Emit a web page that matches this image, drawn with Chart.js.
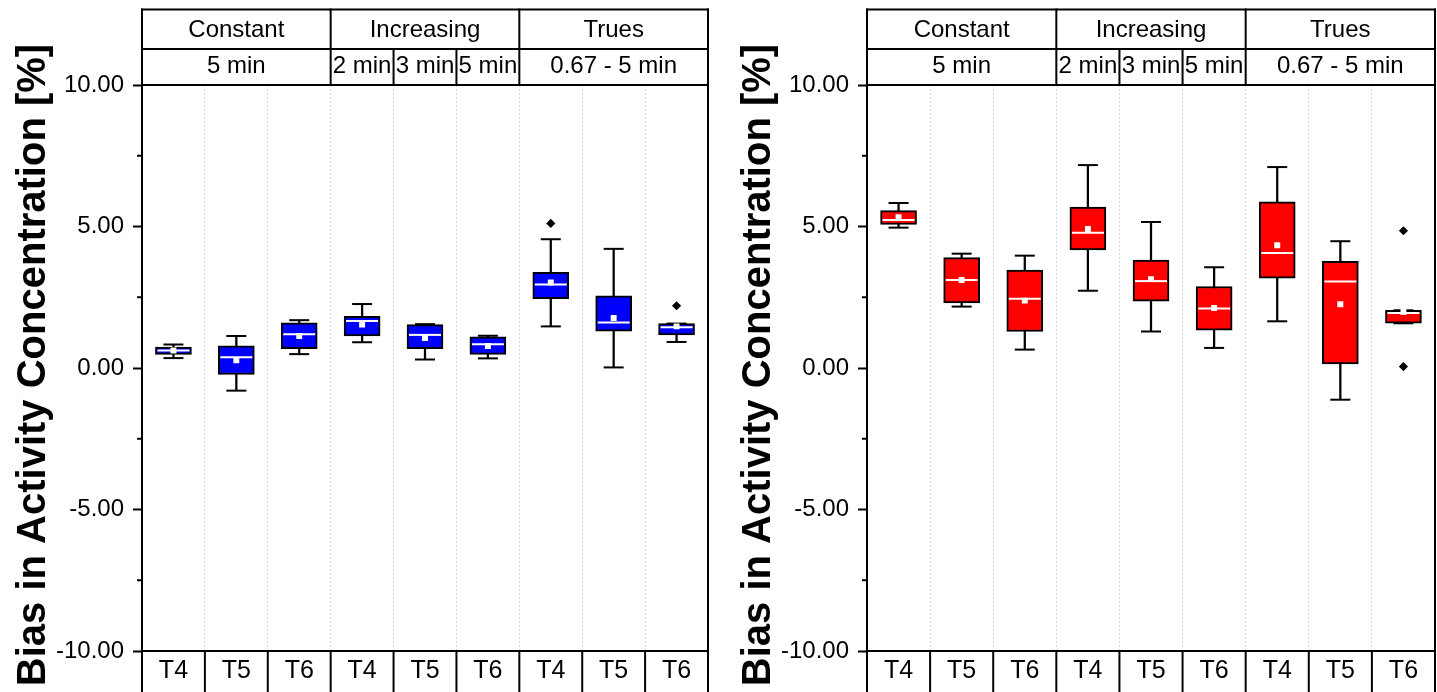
<!DOCTYPE html>
<html>
<head>
<meta charset="utf-8">
<title>Bias in Activity Concentration</title>
<script src="https://cdn.jsdelivr.net/npm/chart.js@4.4.1/dist/chart.umd.min.js"></script>
<style>
  html, body { margin: 0; padding: 0; background: #fff; overflow: hidden; }
  #wrap { position: relative; width: 1437px; height: 692px; overflow: hidden; }
  canvas { position: absolute; top: 0; }
  #left { left: 0; }
  #right { left: 725px; }
</style>
</head>
<body>
<div id="wrap">
  <canvas id="left" width="726" height="692"></canvas>
  <canvas id="right" width="728" height="692"></canvas>
</div>
<script>
// Categories along the x axis and the two header rows above the plot
const categories = ['T4', 'T5', 'T6', 'T4', 'T5', 'T6', 'T4', 'T5', 'T6'];
const groupNames = ['Constant', 'Increasing', 'Trues'];
const groupSpans = [3, 3, 3];
const intervalNames = ['5 min', '2 min', '3 min', '5 min', '0.67 - 5 min'];
const intervalSpans = [3, 1, 1, 1, 3];

// Y axis
const yTickValues = [-10, -5, 0, 5, 10];
const yMinorTickValues = [-7.5, -2.5, 2.5, 7.5];
const yTitle = 'Bias in Activity Concentration [%]';

// Blue panel: box statistics per category
const blueMin    = [0.35, -0.80, 0.49, 0.91, 0.30, 0.34, 1.47, 0.02, 0.92];
const blueQ1     = [0.48, -0.23, 0.68, 1.13, 0.68, 0.48, 2.45, 1.30, 1.17];
const blueMedian = [0.62,  0.38, 1.19, 1.66, 1.17, 0.84, 2.95, 1.61, 1.44];
const blueMean   = [0.62,  0.27, 1.13, 1.54, 1.06, 0.78, 3.02, 1.77, 1.47];
const blueQ3     = [0.74,  0.78, 1.60, 1.83, 1.53, 1.10, 3.38, 2.55, 1.57];
const blueMax    = [0.83,  1.13, 1.69, 2.26, 1.55, 1.14, 4.55, 4.21, 1.57];
const blueOutliers = [null, null, null, null, null, null, 5.11, null, 2.20];

// Red panel: box statistics per category
const redMin    = [4.96, 2.17, 0.65, 2.73, 1.29, 0.71, 1.65, -1.12, 1.58];
const redQ1     = [5.07, 2.30, 1.29, 4.17, 2.36, 1.34, 3.17,  0.14, 1.58];
const redMedian = [5.23, 3.11, 2.45, 4.78, 3.07, 2.10, 4.06,  3.06, 1.94];
const redMean   = [5.33, 3.11, 2.38, 4.91, 3.14, 2.12, 4.34,  2.25, 1.98];
const redQ3     = [5.56, 3.90, 3.46, 5.69, 3.81, 2.88, 5.87,  3.77, 2.04];
const redMax    = [5.83, 4.04, 3.97, 7.17, 5.16, 3.56, 7.10,  4.48, 2.04];
const redOutliersHigh = [null, null, null, null, null, null, null, null, 4.85];
const redOutliersLow  = [null, null, null, null, null, null, null, null, 0.05];

const FONT = "'Liberation Sans', Arial, Helvetica, sans-serif";

// Draws the table-like frame: header rows, label-row dividers, minor ticks and the y title
const framePlugin = {
  id: 'frame',
  afterDraw(chart) {
    const { ctx, chartArea: a, scales: { x, y } } = chart;
    const H = chart.height;
    const top = a.top - 75.5;
    const mid = a.top - 36;
    const edge = i => x.getPixelForValue(i - 0.5);
    const line = (x1, y1, x2, y2) => {
      ctx.beginPath(); ctx.moveTo(x1, y1); ctx.lineTo(x2, y2); ctx.stroke();
    };

    ctx.save();
    ctx.strokeStyle = '#000';
    ctx.lineWidth = 2;
    ctx.lineCap = 'square';

    // outer frame and horizontal header rules
    line(a.left, top, a.left, H);
    line(a.right, top, a.right, H);
    line(a.left, top, a.right, top);
    line(a.left, mid, a.right, mid);
    line(a.left, a.top, a.right, a.top);
    line(a.left, a.bottom, a.right, a.bottom);

    ctx.fillStyle = '#000';
    ctx.textAlign = 'center';
    ctx.textBaseline = 'middle';
    ctx.font = `24px ${FONT}`;

    // header row 1: groups
    let c = 0;
    groupNames.forEach((name, k) => {
      const x0 = edge(c), x1 = edge(c + groupSpans[k]);
      if (c > 0) line(x0, top, x0, mid);
      ctx.fillText(name, (x0 + x1) / 2, (top + mid) / 2 + 1);
      c += groupSpans[k];
    });

    // header row 2: counting intervals
    c = 0;
    intervalNames.forEach((name, k) => {
      const x0 = edge(c), x1 = edge(c + intervalSpans[k]);
      if (c > 0) line(x0, mid, x0, a.top);
      ctx.fillText(name, (x0 + x1) / 2, (mid + a.top) / 2 - 1);
      c += intervalSpans[k];
    });

    // dividers of the category label row
    for (let i = 1; i < categories.length; i++) line(edge(i), a.bottom, edge(i), H);

    // minor y ticks
    ctx.lineCap = 'butt';
    yMinorTickValues.forEach(v => {
      const py = y.getPixelForValue(v);
      line(a.left - 5, py, a.left, py);
    });

    // rotated y axis title
    ctx.translate(34, (a.top + a.bottom) / 2 - 3);
    ctx.rotate(-Math.PI / 2);
    ctx.font = `bold 40px ${FONT}`;
    ctx.fillText(yTitle, 0, 0);
    ctx.restore();
  }
};

function boxDatasets(color, s) {
  const ds = [
    // whisker stem
    { type: 'bar', data: s.min.map((v, i) => [v, s.max[i]]), backgroundColor: '#000',
      borderWidth: 0, barThickness: 1.6, grouped: false, order: 5 },
    // interquartile box
    { type: 'bar', data: s.q1.map((v, i) => [v, s.q3[i]]), backgroundColor: color,
      borderColor: '#000', borderWidth: 2, borderSkipped: false, barThickness: 36,
      grouped: false, order: 4 },
    // whisker caps
    { type: 'line', data: s.min, showLine: false, pointStyle: 'line', pointRadius: 10,
      pointBorderWidth: 2, pointBorderColor: '#000', order: 3 },
    { type: 'line', data: s.max, showLine: false, pointStyle: 'line', pointRadius: 10,
      pointBorderWidth: 2, pointBorderColor: '#000', order: 3 },
    // median
    { type: 'line', data: s.median, showLine: false, pointStyle: 'line', pointRadius: 16,
      pointBorderWidth: 2, pointBorderColor: '#fff', order: 2 },
    // mean
    { type: 'line', data: s.mean, showLine: false, pointStyle: 'rect', pointRadius: 4.2,
      pointBackgroundColor: '#fff', pointBorderWidth: 0, order: 1 }
  ];
  s.outliers.forEach(o => ds.push(
    { type: 'line', data: o, showLine: false, pointStyle: 'rectRot', pointRadius: 4.6,
      pointBackgroundColor: '#000', pointBorderWidth: 0, order: 0 }
  ));
  return ds;
}

function makeChart(id, color, stats) {
  return new Chart(document.getElementById(id), {
    type: 'bar',
    data: { labels: categories, datasets: boxDatasets(color, stats) },
    options: {
      responsive: false,
      animation: false,
      events: [],
      layout: { padding: { left: 0, right: 0, top: 85, bottom: 0 } },
      plugins: { legend: { display: false }, tooltip: { enabled: false } },
      scales: {
        x: {
          type: 'category',
          offset: true,
          grid: { offset: true, color: '#d4d4d4', lineWidth: 1, drawTicks: false },
          border: { display: true, color: '#000', width: 2, dash: [2, 2] },
          ticks: { color: '#000', font: { family: FONT, size: 25 }, padding: 5,
                   maxRotation: 0, autoSkip: false },
          afterFit(s) { s.height = 41; }
        },
        y: {
          type: 'linear',
          min: -10,
          max: 10,
          afterBuildTicks(s) { s.ticks = yTickValues.map(v => ({ value: v })); },
          grid: { drawOnChartArea: false, drawTicks: true, tickLength: 9,
                  tickColor: '#000', tickWidth: 2 },
          border: { color: '#000', width: 2 },
          ticks: { color: '#000', font: { family: FONT, size: 24 }, padding: 9,
                   callback: v => Number(v).toFixed(2) },
          afterFit(s) { s.width = 142; }
        }
      }
    },
    plugins: [framePlugin]
  });
}

makeChart('left', '#0000ff', {
  min: blueMin, q1: blueQ1, median: blueMedian, mean: blueMean, q3: blueQ3, max: blueMax,
  outliers: [blueOutliers]
});

makeChart('right', '#ff0000', {
  min: redMin, q1: redQ1, median: redMedian, mean: redMean, q3: redQ3, max: redMax,
  outliers: [redOutliersHigh, redOutliersLow]
});
</script>
</body>
</html>
